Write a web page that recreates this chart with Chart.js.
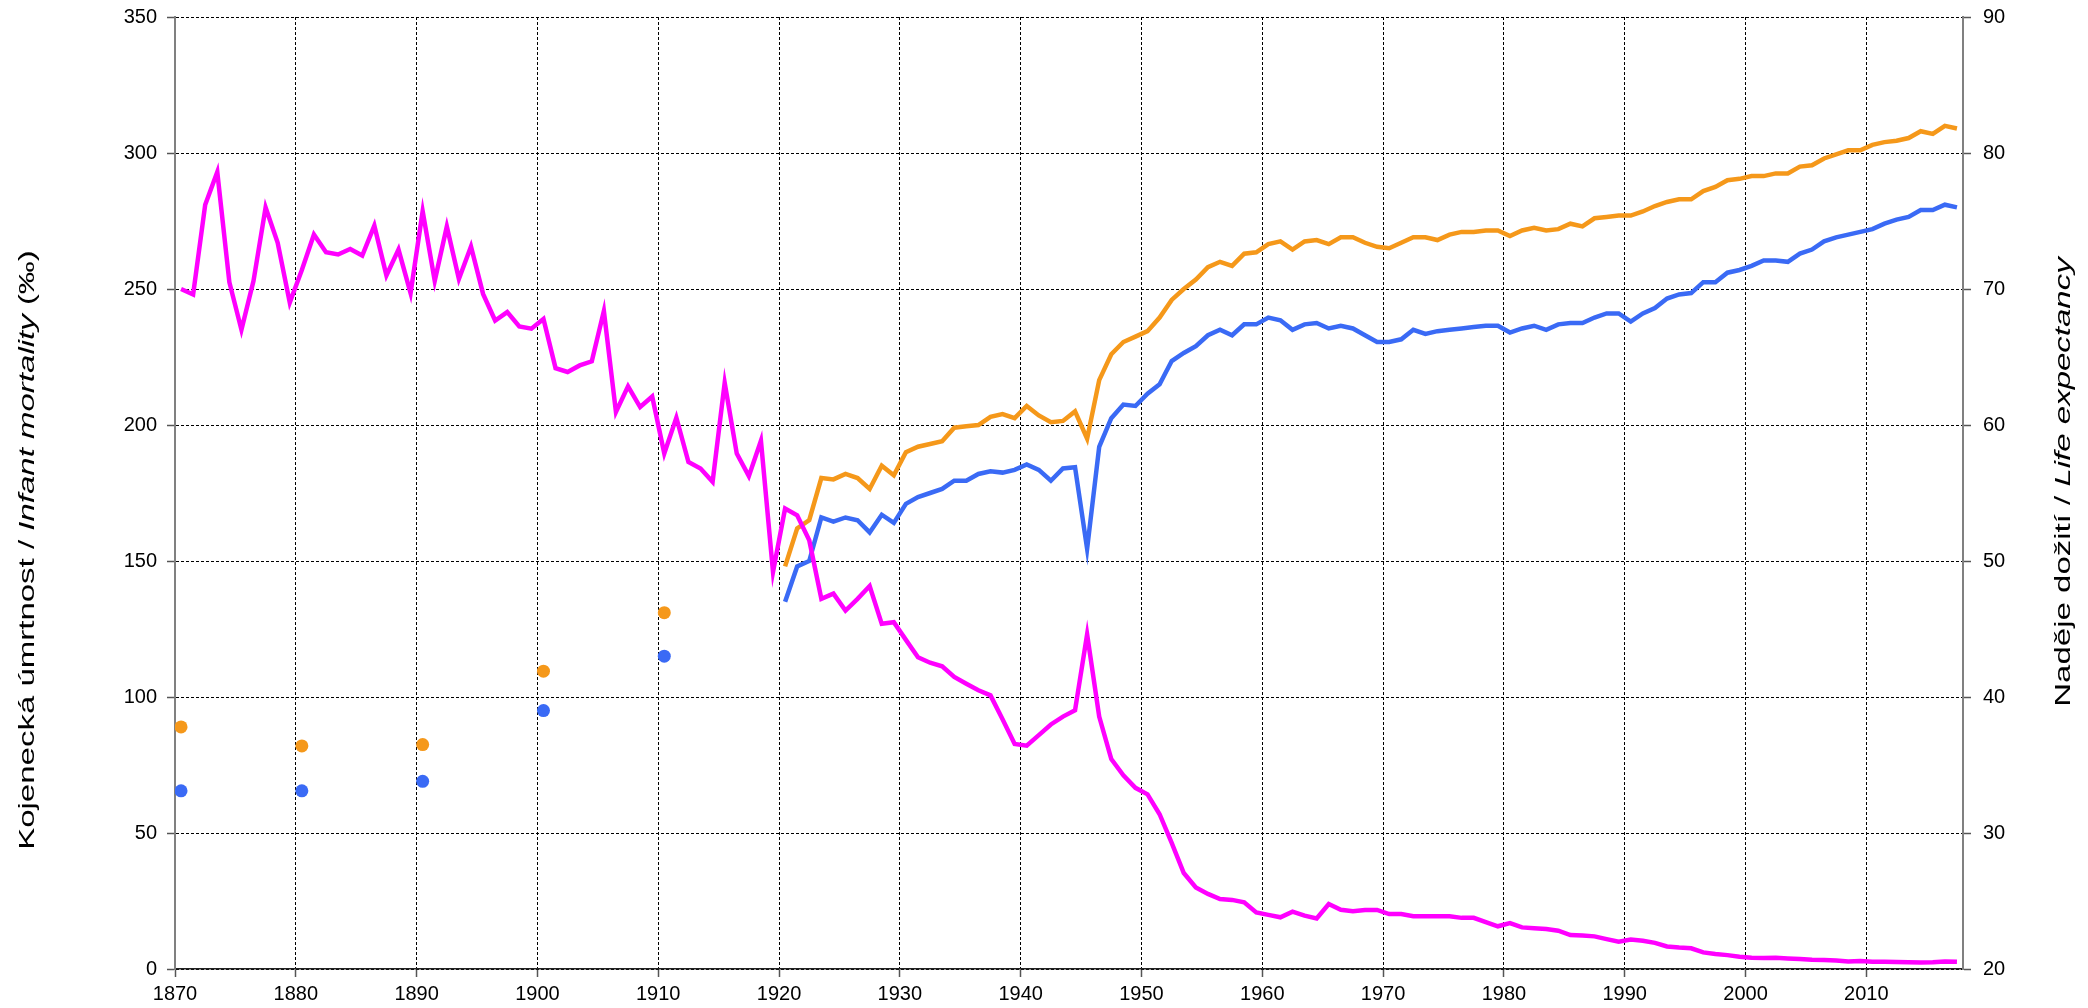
<!DOCTYPE html>
<html>
<head>
<meta charset="utf-8">
<script src="https://cdn.jsdelivr.net/npm/chart.js@4"></script>
<style>
  html, body { margin: 0; padding: 0; background: #fff; }
</style>
</head>
<body>
<canvas id="chart" width="2088" height="1008"></canvas>
<script>
// Czech infant mortality (per mille) and life expectancy
const infantStart = 1870;
const infantMortality = [
  250, 248, 281, 293, 252.5, 235, 253, 280, 267, 245,
  257, 270, 263.5, 262.7, 264.7, 262.3, 273.3, 255, 264.5, 248.5,
  278.6, 253, 273, 253.7, 265.6, 248.2, 238.4, 241.5, 236.2, 235.4,
  239, 220.9, 219.5, 221.9, 223.4, 241.9, 204.8, 214.2, 206.6, 210.5,
  189.5, 202.7, 186.4, 184, 179.1, 215.5, 189.5, 181.2, 194.2, 146,
  169.3, 166.8, 157.6, 136.1, 138, 131.8, 136.1, 140.8, 126.9, 127.5,
  121, 114.6, 112.6, 111.3, 107.4, 104.9, 102.5, 100.6, 91.8, 82.7,
  82.1, 86, 89.9, 92.8, 95.1, 123, 92.8, 77.2, 71.2, 66.6,
  64.2, 56.9, 46.4, 35.3, 30, 27.6, 25.7, 25.4, 24.5, 20.8,
  19.9, 19.0, 21.1, 19.6, 18.6, 23.9, 21.8, 21.2, 21.7, 21.7,
  20.2, 20.2, 19.4, 19.4, 19.4, 19.4, 18.8, 18.8, 17.2, 15.7,
  16.9, 15.3, 15.0, 14.7, 14.1, 12.5, 12.3, 12.0, 11.0, 10.0,
  10.8, 10.4, 9.6, 8.3, 7.9, 7.6, 6.1, 5.5, 5.1, 4.5,
  4.1, 4.0, 4.1, 3.9, 3.7, 3.4, 3.3, 3.1, 2.8, 2.9,
  2.7, 2.7, 2.6, 2.5, 2.4, 2.5, 2.8, 2.7
];

const lifeStart = 1920;
const femaleLife = [
  49.6, 52.4, 53.0, 56.1, 56.0, 56.4, 56.1, 55.3, 57.0, 56.3,
  58.0, 58.4, 58.6, 58.8, 59.8, 59.9, 60.0, 60.6, 60.8, 60.5,
  61.4, 60.7, 60.2, 60.3, 61.0, 59.0, 63.3, 65.2, 66.1, 66.5,
  66.9, 67.9, 69.2, 70.0, 70.7, 71.6, 72.0, 71.7, 72.6, 72.7,
  73.3, 73.5, 72.9, 73.5, 73.6, 73.3, 73.8, 73.8, 73.4, 73.1,
  73.0, 73.4, 73.8, 73.8, 73.6, 74.0, 74.2, 74.2, 74.3, 74.3,
  73.9, 74.3, 74.5, 74.3, 74.4, 74.8, 74.6, 75.2, 75.3, 75.4,
  75.4, 75.7, 76.1, 76.4, 76.6, 76.6, 77.2, 77.5, 78.0, 78.1,
  78.3, 78.3, 78.5, 78.5, 79.0, 79.1, 79.6, 79.9, 80.2, 80.2,
  80.6, 80.8, 80.9, 81.1, 81.6, 81.4, 82.0, 81.8
];
const maleLife = [
  47.0, 49.6, 50.0, 53.2, 52.9, 53.2, 53.0, 52.1, 53.4, 52.8,
  54.2, 54.7, 55.0, 55.3, 55.9, 55.9, 56.4, 56.6, 56.5, 56.7,
  57.1, 56.7, 55.9, 56.8, 56.9, 50.9, 58.4, 60.5, 61.5, 61.4,
  62.3, 63.0, 64.7, 65.3, 65.8, 66.6, 67.0, 66.6, 67.4, 67.4,
  67.9, 67.7, 67.0, 67.4, 67.5, 67.1, 67.3, 67.1, 66.6, 66.1,
  66.1, 66.3, 67.0, 66.7, 66.9, 67.0, 67.1, 67.2, 67.3, 67.3,
  66.8, 67.1, 67.3, 67.0, 67.4, 67.5, 67.5, 67.9, 68.2, 68.2,
  67.6, 68.2, 68.6, 69.3, 69.6, 69.7, 70.5, 70.5, 71.2, 71.4,
  71.7, 72.1, 72.1, 72.0, 72.6, 72.9, 73.5, 73.8, 74.0, 74.2,
  74.4, 74.8, 75.1, 75.3, 75.8, 75.8, 76.2, 76.0
];

// older estimates, one per decade
const censusYears = [1870, 1880, 1890, 1900, 1910];
const femaleCensus = [37.8, 36.4, 36.5, 41.9, 46.2];
const maleCensus = [33.1, 33.1, 33.8, 39.0, 43.0];

const leftTicks = { min: 0, max: 350, step: 50 };
const rightTicks = { min: 20, max: 90, step: 10 };
const yearTicks = { min: 1870, max: 2018, step: 10 };

const magenta = '#ff00ff';
const orange = '#f5981a';
const blue = '#3a6af5';

// each year sits in the middle of its slot between two grid lines
const series = (start, values) => values.map((v, i) => ({ x: start + i + 0.5, y: v }));
const dots = (years, values) => values.map((v, i) => ({ x: years[i] + 0.5, y: v }));

Chart.defaults.font.family = "'Liberation Sans', Arial, sans-serif";
Chart.defaults.font.size = 20;
Chart.defaults.color = '#000';

// the titles in the original are drawn tall and thin, so stretch them along the text
function drawTitle(ctx, parts, x, y, stretch) {
  const font = p => (p.italic ? 'italic ' : '') + "22px 'Liberation Sans', Arial, sans-serif";
  ctx.save();
  ctx.translate(x, y);
  ctx.rotate(-Math.PI / 2);
  ctx.scale(stretch, 1);
  let total = 0;
  parts.forEach(p => {
    ctx.font = font(p);
    p.w = ctx.measureText(p.text).width;
    total += p.w;
  });
  let cx = -total / 2;
  ctx.textBaseline = 'middle';
  ctx.textAlign = 'left';
  ctx.fillStyle = '#000';
  parts.forEach(p => {
    ctx.font = font(p);
    ctx.fillText(p.text, cx, 0);
    cx += p.w;
  });
  ctx.restore();
}

const axisTitles = {
  id: 'axisTitles',
  afterDraw(chart) {
    drawTitle(chart.ctx, [
      { text: 'Kojenecká úmrtnost / ' },
      { text: 'Infant mortality', italic: true },
      { text: ' (‰)' }
    ], 28, 550, 1.5);
    drawTitle(chart.ctx, [
      { text: 'Naděje dožití / ' },
      { text: 'Life expectancy', italic: true }
    ], 2064, 482, 1.5);
  }
};

const gridStyle = {
  color: '#000',
  lineWidth: 1,
  tickLength: 8,
  tickColor: '#555',
  tickWidth: 1.5
};

const noPad = s => { s.paddingTop = 0; s.paddingBottom = 0; };

new Chart(document.getElementById('chart'), {
  type: 'line',
  data: {
    datasets: [
      { label: 'Kojenecká úmrtnost', data: series(infantStart, infantMortality), yAxisID: 'y',
        borderColor: magenta, borderWidth: 4.5, pointRadius: 0, tension: 0 },
      { label: 'Ženy', data: series(lifeStart, femaleLife), yAxisID: 'y2',
        borderColor: orange, borderWidth: 4.5, pointRadius: 0, tension: 0 },
      { label: 'Muži', data: series(lifeStart, maleLife), yAxisID: 'y2',
        borderColor: blue, borderWidth: 4.5, pointRadius: 0, tension: 0 },
      { label: 'Ženy (odhad)', data: dots(censusYears, femaleCensus), yAxisID: 'y2', showLine: false,
        pointRadius: 6.5, pointBackgroundColor: orange, pointBorderWidth: 0 },
      { label: 'Muži (odhad)', data: dots(censusYears, maleCensus), yAxisID: 'y2', showLine: false,
        pointRadius: 6.5, pointBackgroundColor: blue, pointBorderWidth: 0 }
    ]
  },
  options: {
    responsive: false,
    animation: false,
    layout: { padding: { top: 17, left: 0, right: 0, bottom: 0 } },
    plugins: { legend: { display: false }, tooltip: { enabled: false } },
    scales: {
      x: {
        type: 'linear',
        min: yearTicks.min,
        max: yearTicks.max,
        ticks: { stepSize: yearTicks.step, includeBounds: false, padding: 5, maxRotation: 0,
                 callback: v => String(v) },
        grid: gridStyle,
        border: { color: '#222', width: 1.5, dash: [3, 2] },
        afterFit: s => { s.height = 39; }
      },
      y: {
        position: 'left',
        min: leftTicks.min,
        max: leftTicks.max,
        ticks: { stepSize: leftTicks.step, padding: 10 },
        grid: gridStyle,
        border: { color: '#808080', width: 2, dash: [3, 2] },
        afterFit: s => { s.width = 175; noPad(s); }
      },
      y2: {
        position: 'right',
        min: rightTicks.min,
        max: rightTicks.max,
        ticks: { stepSize: rightTicks.step, padding: 12 },
        grid: { drawOnChartArea: false, tickLength: 8, tickColor: '#555', tickWidth: 1.5 },
        border: { color: '#808080', width: 2 },
        afterFit: s => { s.width = 125; noPad(s); }
      }
    }
  },
  plugins: [axisTitles]
});
</script>
</body>
</html>
